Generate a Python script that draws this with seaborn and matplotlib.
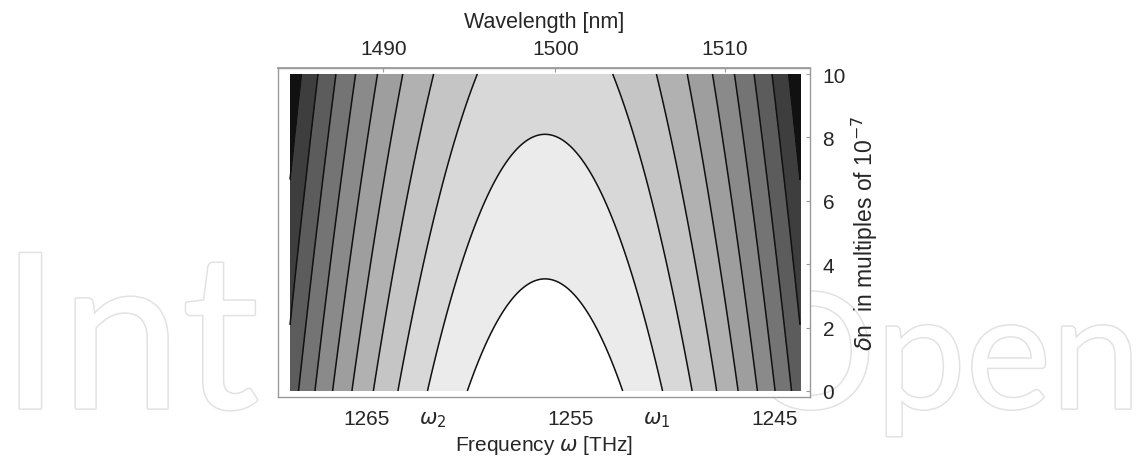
import numpy as np
import matplotlib
matplotlib.use("Agg")
import matplotlib.pyplot as plt
import matplotlib.patheffects as pe
import seaborn as sns

# frequency window (THz) and index change window (x 1e-7)
omega_span = [1243.77, 1268.77]
dn_span = [0.0, 10.0]
omega_center = 1256.27
dn_weight = 4.1

# contour levels of the mismatch (THz^2)
levels = [14.5, 33.2, 52.0, 70.8, 89.6, 108.4, 127.2, 146.0, 164.8, 183.6]
band_grays = ["#ffffff", "#ebebeb", "#d8d8d8", "#c5c5c5", "#b1b1b1",
              "#9e9e9e", "#8a8a8a", "#747474", "#5c5c5c", "#3e3e3e", "#111111"]

freq_ticks = [1265, 1261.8, 1255, 1250.8, 1245]
freq_labels = ["1265", r"$\omega_2$", "1255", r"$\omega_1$", "1245"]
wl_ticks = [1490, 1500, 1510]
dn_ticks = [0, 2, 4, 6, 8, 10]

TWO_PI_C = 2 * np.pi * 299792.458  # nm * THz


def omega_to_lambda(w):
    w = np.asarray(w, dtype=float)
    with np.errstate(divide="ignore"):
        return TWO_PI_C / w


def main():
    sns.set_theme(style="white")
    plt.rcParams["font.family"] = ["Liberation Sans", "DejaVu Sans"]
    plt.rcParams["mathtext.fontset"] = "dejavusans"

    fig = plt.figure(figsize=(11.42, 4.60), dpi=100)
    fig.patch.set_facecolor("white")

    # publisher watermark, the middle of it sits behind the plot anyway
    mark = dict(family="Lato", color="white", zorder=-5,
                path_effects=[pe.withStroke(linewidth=2.2, foreground="#e2e2e2")])
    fig.text(0.0, 0.11, "Int", fontsize=156, **mark)
    fig.text(0.999, 0.11, "Open", fontsize=116, ha="right", **mark)

    ax = fig.add_axes([0.2434, 0.1348, 0.4659, 0.7152])
    ax.set_zorder(2)
    ax.set_facecolor("white")

    w = np.linspace(omega_span[0], omega_span[1], 400)
    d = np.linspace(dn_span[0], dn_span[1], 300)
    W, D = np.meshgrid(w, d)
    F = (W - omega_center) ** 2 + dn_weight * D

    bounds = [-1] + levels + [F.max() + 1]
    ax.contourf(W, D, F, levels=bounds, colors=band_grays)
    ax.contour(W, D, F, levels=levels, colors="#111111", linewidths=1.1)

    ax.set_xlim(1269.36, 1243.28)
    ax.set_ylim(-0.19, 10.19)

    ax.set_xticks(freq_ticks)
    ax.set_xticklabels(freq_labels)
    ax.set_xlabel(r"Frequency $\omega$ [THz]", fontsize=15, labelpad=3)

    ax.yaxis.tick_right()
    ax.yaxis.set_label_position("right")
    ax.set_yticks(dn_ticks)
    ax.set_ylabel(r"$\delta$n  in multiples of 10$^{-7}$", fontsize=16.5,
                  labelpad=3)

    ax.tick_params(axis="both", direction="in", length=3, width=0.8,
                   color="#999999", labelsize=15, pad=9)
    ax.tick_params(axis="y", pad=9)
    for s in ax.spines.values():
        s.set_color("#9a9a9a")
        s.set_linewidth(1.0)

    top = ax.secondary_xaxis("top", functions=(omega_to_lambda, omega_to_lambda))
    top.set_xticks(wl_ticks)
    top.set_xlabel("Wavelength [nm]", fontsize=15.5, labelpad=9)
    top.tick_params(direction="in", length=3, width=0.8, color="#999999",
                    labelsize=15, pad=7)
    top.spines["top"].set_color("#9a9a9a")

    fig.savefig("out.png", dpi=100, facecolor="white")


if __name__ == "__main__":
    main()
